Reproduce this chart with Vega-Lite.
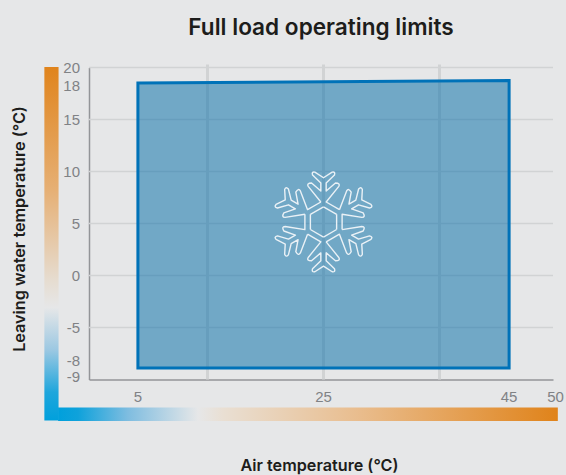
{
  "$schema": "https://vega.github.io/schema/vega-lite/v6.json",
  "autosize": "none",
  "width": 464,
  "height": 312,
  "padding": {"left": 89, "top": 67.5, "right": 13, "bottom": 95.5},
  "background": "#e6e7e8",
  "view": {"stroke": null},
  "title": {"text": "Full load operating limits", "font": "Inter", "fontSize": 22.6, "fontWeight": 600, "color": "#1d1d1b", "anchor": "middle", "offset": 21},
  "datasets": {
    "hgrid": [{"v": 20}, {"v": 15}, {"v": 10}, {"v": 5}, {"v": 0}, {"v": -5}],
    "vgrid": [{"a": 12.5, "b": 20.3, "c": -10}, {"a": 25, "b": 20.3, "c": -10}, {"a": 37.5, "b": 20.3, "c": -10}],
    "envelope": [{"air": 5, "top": 18.5, "bottom": -8.9}, {"air": 45, "top": 18.75, "bottom": -8.9}],
    "flake": [{"air": 25, "t": 5.15, "a": 0}, {"air": 25, "t": 5.15, "a": 60}, {"air": 25, "t": 5.15, "a": 120}, {"air": 25, "t": 5.15, "a": 180}, {"air": 25, "t": 5.15, "a": 240}, {"air": 25, "t": 5.15, "a": 300}],
    "ylabels": [{"air": -0.27, "t": 20, "label": "20"}, {"air": -0.27, "t": 18.3, "label": "18"}, {"air": -0.27, "t": 15, "label": "15"}, {"air": -0.27, "t": 10, "label": "10"}, {"air": -0.27, "t": 5, "label": "5"}, {"air": -0.27, "t": 0, "label": "0"}, {"air": -0.27, "t": -5, "label": "-5"}, {"air": -0.27, "t": -8.2, "label": "-8"}, {"air": -0.27, "t": -9.7, "label": "-9"}],
    "xlabels": [{"air": 5, "t": -10, "label": "5"}, {"air": 25, "t": -10, "label": "25"}, {"air": 45, "t": -10, "label": "45"}, {"air": 50, "t": -10, "label": "50"}]
  },
  "data": {"name": "hgrid"},
  "encoding": {},
  "layer": [
    {
      "data": {"values": [{"x": -5.08, "x2": -3.55, "y": 20.05, "y2": -13.95}]},
      "mark": {"type": "rect", "fill": {"gradient": "linear", "x1": 0, "y1": 0, "x2": 0, "y2": 1, "stops": [{"offset": 0, "color": "#e0841c"}, {"offset": 0.35, "color": "#e6b075"}, {"offset": 0.6, "color": "#e6dccf"}, {"offset": 0.68, "color": "#e6e7e8"}, {"offset": 0.8, "color": "#9cc8e2"}, {"offset": 0.92, "color": "#1ea6dc"}, {"offset": 1, "color": "#00a0dc"}]}},
      "encoding": {
        "x": {"field": "x", "type": "quantitative", "scale": {"domain": [-0.27, 49.73], "nice": false, "zero": false}, "axis": {"values": [5, 25, 45], "grid": false, "ticks": false, "labels": false, "domainColor": "#939598", "domainWidth": 1.5, "title": "Air temperature (°C)", "titleFont": "Inter", "titleFontSize": 16.2, "titleFontWeight": 600, "titleColor": "#1d1d1b", "titleX": 230, "titleY": 78, "titleAnchor": "middle", "titleAlign": "center"}},
        "x2": {"field": "x2"},
        "y": {"field": "y", "type": "quantitative", "scale": {"domain": [-10, 20], "nice": false, "zero": false}, "axis": {"values": [20, 15, 10, 5, 0, -5], "grid": false, "ticks": false, "labels": false, "domainColor": "#939598", "domainWidth": 1.5, "title": "Leaving water temperature (°C)", "titleFont": "Inter", "titleFontSize": 16.2, "titleFontWeight": 600, "titleColor": "#1d1d1b", "titleX": -62, "titleY": 161, "titleAnchor": "middle", "titleAlign": "center", "titleBaseline": "bottom"}},
        "y2": {"field": "y2"}
      }
    },
    {
      "data": {"values": [{"x": -3.6, "x2": 50.25, "y": -12.7, "y2": -13.98}]},
      "mark": {"type": "rect", "fill": {"gradient": "linear", "x1": 0, "y1": 0, "x2": 1, "y2": 0, "stops": [{"offset": 0, "color": "#00a0dc"}, {"offset": 0.04, "color": "#0fa2db"}, {"offset": 0.14, "color": "#7fbde0"}, {"offset": 0.28, "color": "#e6e7e8"}, {"offset": 0.33, "color": "#e9dfd3"}, {"offset": 0.6, "color": "#e9bd8e"}, {"offset": 1, "color": "#e0831a"}]}},
      "encoding": {"x": {"field": "x", "type": "quantitative"}, "x2": {"field": "x2"}, "y": {"field": "y", "type": "quantitative"}, "y2": {"field": "y2"}}
    },
    {
      "mark": {"type": "rule", "color": "#d1d3d4", "strokeWidth": 1.3},
      "encoding": {"y": {"field": "v", "type": "quantitative"}}
    },
    {
      "data": {"name": "vgrid"},
      "mark": {"type": "rule", "color": "#d1d3d4", "strokeWidth": 3},
      "encoding": {"x": {"field": "a", "type": "quantitative"}, "y": {"field": "b", "type": "quantitative"}, "y2": {"field": "c"}}
    },
    {
      "data": {"name": "envelope"},
      "mark": {"type": "area", "fill": "#0a6fa8", "fillOpacity": 0.53, "stroke": "#0072b8", "strokeWidth": 3, "strokeJoin": "miter"},
      "encoding": {"x": {"field": "air", "type": "quantitative"}, "y": {"field": "top", "type": "quantitative"}, "y2": {"field": "bottom"}}
    },
    {
      "data": {"name": "flake"},
      "mark": {"type": "point", "filled": false, "stroke": "#eaf1f6", "strokeWidth": 1.4, "strokeJoin": "round", "opacity": 1, "size": 10200,
        "shape": "M-0.053 -0.395 L-0.303 -0.704 Q-0.34 -0.77 -0.237 -0.77 L-0.053 -0.612 L-0.053 -0.77 L-0.217 -0.928 Q-0.24 -1 -0.171 -0.987 L0 -0.875 L0.171 -0.987 Q0.24 -1 0.217 -0.928 L0.053 -0.77 L0.053 -0.612 L0.237 -0.77 Q0.34 -0.77 0.303 -0.704 L0.053 -0.395 L0.316 -0.243 M0 -0.3 L0.26 -0.15"},
      "encoding": {"x": {"field": "air", "type": "quantitative"}, "y": {"field": "t", "type": "quantitative"}, "angle": {"field": "a", "type": "quantitative", "scale": null}}
    },
    {
      "data": {"name": "ylabels"},
      "mark": {"type": "text", "align": "right", "baseline": "middle", "dx": -9, "dy": 0.5, "font": "Liberation Sans", "fontSize": 15, "color": "#808285"},
      "encoding": {"x": {"field": "air", "type": "quantitative"}, "y": {"field": "t", "type": "quantitative"}, "text": {"field": "label"}}
    },
    {
      "data": {"name": "xlabels"},
      "mark": {"type": "text", "align": "center", "baseline": "middle", "dy": 17, "font": "Liberation Sans", "fontSize": 15, "color": "#808285"},
      "encoding": {"x": {"field": "air", "type": "quantitative"}, "y": {"field": "t", "type": "quantitative"}, "text": {"field": "label"}}
    }
  ]
}
